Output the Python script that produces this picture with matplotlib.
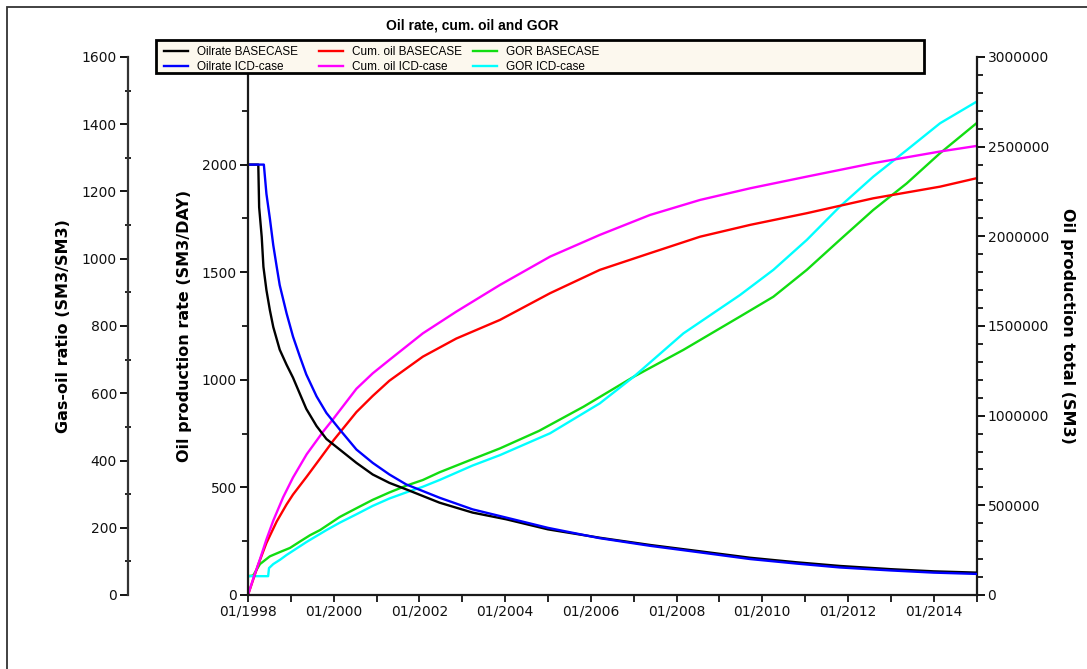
import matplotlib
matplotlib.use("Agg")
import matplotlib.pyplot as plt
from matplotlib.patches import Rectangle
from matplotlib.ticker import MultipleLocator, FixedLocator, FuncFormatter

# decimal years
rate_base_t = [1998.0, 1998.24, 1998.26, 1998.32, 1998.36, 1998.43, 1998.51, 1998.59, 1998.74, 1998.90,
               1999.05, 1999.21, 1999.36, 1999.60, 1999.83, 2000.14, 2000.53, 2000.91, 2001.30, 2001.69,
               2002.08, 2002.47, 2003.24, 2004.02, 2005.0, 2006.21, 2007.4, 2008.55, 2009.72, 2010.8,
               2011.81, 2013.0, 2014.0, 2015.0]
rate_base = [2000, 2000, 1802, 1664, 1525, 1417, 1324, 1245, 1140, 1070,
             1010, 935, 865, 785, 725, 676, 614, 560, 521, 491,
             460, 429, 383, 352, 305, 266, 232, 203, 173, 152,
             135, 120, 110, 104]

rate_icd_t = [1998.0, 1998.37, 1998.43, 1998.51, 1998.59, 1998.67, 1998.74, 1998.90, 1999.05, 1999.21,
              1999.36, 1999.60, 1999.83, 2000.14, 2000.53, 2000.91, 2001.30, 2001.69, 2002.08, 2002.47,
              2003.24, 2004.02, 2005.0, 2006.21, 2007.4, 2008.55, 2009.72, 2010.8, 2011.81, 2013.0,
              2014.0, 2015.0]
rate_icd = [2000, 2000, 1864, 1750, 1625, 1525, 1440, 1309, 1201, 1108,
            1025, 923, 846, 769, 676, 614, 560, 514, 483, 452,
            398, 360, 312, 264, 228, 198, 167, 146, 128, 114,
            104, 98]

cum_base_t = [1998.0, 1998.12, 1998.24, 1998.43, 1998.67, 1998.9, 1999.05, 1999.37, 1999.68, 2000.0,
              2000.53, 2000.91, 2001.30, 2002.08, 2002.86, 2003.88, 2005.05, 2006.21, 2007.38, 2008.55,
              2009.72, 2011.04, 2012.59, 2014.15, 2015.0]
cum_base = [0, 85e3, 170e3, 290e3, 410e3, 505e3, 560e3, 660e3, 760e3, 864e3,
            1020e3, 1110e3, 1195e3, 1329e3, 1430e3, 1534e3, 1683e3, 1813e3, 1906e3, 1998e3,
            2064e3, 2129e3, 2212e3, 2277e3, 2324e3]

cum_icd_t = [1998.0, 1998.12, 1998.28, 1998.43, 1998.59, 1998.82, 1999.05, 1999.37, 1999.75, 2000.0,
             2000.53, 2000.91, 2001.30, 2002.08, 2002.86, 2003.88, 2005.05, 2006.21, 2007.38, 2008.55,
             2009.72, 2011.04, 2012.59, 2014.15, 2015.0]
cum_icd = [0, 90e3, 200e3, 310e3, 415e3, 545e3, 655e3, 785e3, 910e3, 985e3,
           1150e3, 1236e3, 1311e3, 1459e3, 1580e3, 1729e3, 1887e3, 2008e3, 2119e3, 2203e3,
           2268e3, 2333e3, 2408e3, 2473e3, 2504e3]

gor_base_t = [1998.0, 1998.12, 1998.2, 1998.28, 1998.51, 1998.75, 1998.98, 1999.2, 1999.45, 1999.68,
              2000.14, 2000.53, 2000.91, 2001.30, 2001.69, 2002.08, 2002.47, 2003.24, 2003.88, 2004.79,
              2005.83, 2007.0, 2008.16, 2009.48, 2010.26, 2011.04, 2011.81, 2012.59, 2013.37, 2014.15,
              2015.0]
gor_base = [56, 58, 75, 92, 115, 128, 140, 158, 178, 193,
            232, 258, 283, 305, 325, 342, 365, 404, 436, 488,
            560, 649, 729, 828, 887, 967, 1056, 1145, 1224, 1314,
            1403]

gor_icd_t = [1998.0, 1998.47, 1998.49, 1998.59, 1998.75, 1998.9, 1999.37, 1999.83, 2000.14, 2000.53,
             2000.91, 2001.30, 2001.69, 2002.08, 2002.47, 2003.24, 2003.88, 2005.05, 2006.21, 2007.0,
             2008.16, 2009.48, 2010.26, 2011.04, 2011.81, 2012.59, 2013.37, 2014.15, 2015.0]
gor_icd = [56, 56, 80, 92, 105, 119, 158, 193, 215, 240,
           265, 287, 305, 322, 342, 385, 416, 481, 570, 649,
           778, 892, 967, 1056, 1155, 1244, 1323, 1403, 1467]

year_ticks = list(range(1998, 2015, 2))
title = "Oil rate, cum. oil and GOR"

W, H = 1087, 669
fig = plt.figure(figsize=(W / 100, H / 100), dpi=100)
x0, x1, ytop, ybot = 248, 976.5, 57, 595
ax = fig.add_axes([x0 / W, 1 - ybot / H, (x1 - x0) / W, (ybot - ytop) / H])
ax_gor = ax.twinx()
ax_cum = ax.twinx()

tick_font = {"family": "DejaVu Sans", "size": 10}
lab_font = dict(family="DejaVu Sans", fontsize=11.5, fontweight="bold")
spine_col = "#1a1a1a"
lw = 1.7

l_gor_b, = ax_gor.plot(gor_base_t, gor_base, color="#11dd11", lw=lw, label="GOR BASECASE")
l_gor_i, = ax_gor.plot(gor_icd_t, gor_icd, color="#00ffff", lw=lw, label="GOR ICD-case")
l_cum_b, = ax_cum.plot(cum_base_t, cum_base, color="#ff0000", lw=lw, label="Cum. oil BASECASE")
l_cum_i, = ax_cum.plot(cum_icd_t, cum_icd, color="#ff00ff", lw=lw, label="Cum. oil ICD-case")
l_rate_b, = ax.plot(rate_base_t, rate_base, color="#000000", lw=lw, label="Oilrate BASECASE")
l_rate_i, = ax.plot(rate_icd_t, rate_icd, color="#0000ff", lw=lw, label="Oilrate ICD-case")
ax.set_zorder(3)
ax.patch.set_visible(False)

ax.set_xlim(1998, 2015)
ax.set_ylim(0, 2500)
ax_gor.set_ylim(0, 1600)
ax_cum.set_ylim(0, 3000000)

# oil rate axis
for s in ["top", "right"]:
    ax.spines[s].set_visible(False)
for s in ["left", "bottom"]:
    ax.spines[s].set_linewidth(1.6)
    ax.spines[s].set_color(spine_col)
ax.yaxis.set_major_locator(FixedLocator([0, 500, 1000, 1500, 2000]))
ax.yaxis.set_minor_locator(MultipleLocator(250))
ax.xaxis.set_major_locator(FixedLocator(year_ticks))
ax.xaxis.set_minor_locator(MultipleLocator(1))
ax.xaxis.set_major_formatter(FuncFormatter(lambda v, p: "01/%d" % round(v)))
ax.tick_params(axis="y", which="major", length=6, width=1.3, pad=2, direction="out")
ax.tick_params(axis="y", which="minor", length=4, width=1.2, direction="out")
ax.tick_params(axis="x", which="both", length=5, width=1.2, pad=2, direction="out")
ax.set_ylabel("Oil production rate (SM3/DAY)", **lab_font)
ax.yaxis.label.set_va("center")
ax.yaxis.set_label_coords((184 - x0) / (x1 - x0), 0.5)

# GOR axis on the far left
for s in ["top", "right", "bottom"]:
    ax_gor.spines[s].set_visible(False)
ax_gor.spines["left"].set_visible(True)
ax_gor.spines["left"].set_position(("axes", (128 - x0) / (x1 - x0)))
ax_gor.spines["left"].set_linewidth(1.6)
ax_gor.spines["left"].set_color("#333333")
ax_gor.yaxis.set_ticks_position("left")
ax_gor.yaxis.set_label_position("left")
ax_gor.yaxis.set_major_locator(MultipleLocator(200))
ax_gor.yaxis.set_minor_locator(MultipleLocator(100))
ax_gor.tick_params(axis="y", which="major", length=6, width=1.3, pad=2, direction="out")
ax_gor.tick_params(axis="y", which="minor", length=4, width=1.2, direction="inout")
ax_gor.set_ylabel("Gas-oil ratio (SM3/SM3)", **lab_font)
ax_gor.yaxis.label.set_va("center")
ax_gor.yaxis.set_label_coords((63 - x0) / (x1 - x0), 0.5)

# cumulative axis on the right
for s in ["top", "left", "bottom"]:
    ax_cum.spines[s].set_visible(False)
ax_cum.spines["right"].set_linewidth(1.6)
ax_cum.spines["right"].set_color(spine_col)
ax_cum.yaxis.set_major_locator(MultipleLocator(500000))
ax_cum.yaxis.set_minor_locator(MultipleLocator(100000))
ax_cum.yaxis.set_major_formatter(FuncFormatter(lambda v, p: "%d" % v))
ax_cum.tick_params(axis="y", which="major", length=6, width=1.3, pad=2, direction="out")
ax_cum.tick_params(axis="y", which="minor", length=4, width=1.2, direction="out")
ax_cum.set_ylabel("Oil production total (SM3)", rotation=270, **lab_font)
ax_cum.yaxis.label.set_va("center")
ax_cum.yaxis.set_label_coords((1067 - x0) / (x1 - x0), 0.5)

for a in (ax, ax_gor, ax_cum):
    for t in a.get_xticklabels() + a.get_yticklabels():
        t.set_fontfamily(tick_font["family"])
        t.set_fontsize(tick_font["size"])
        t.set_color("#111111")

# outer frame (top and left edges only visible)
fig.add_artist(Rectangle((7 / W, -0.1), 1.2, 1.1 - 7 / H, transform=fig.transFigure,
                         fill=False, ec="#333333", lw=1.3, clip_on=False))

fig.text(472 / W, 1 - 25 / H, title, ha="center", va="center",
         family="Liberation Sans", fontweight="bold", fontsize=10)

# legend box
fig.add_artist(Rectangle((156 / W, 1 - 73 / H), 768 / W, 33 / H, transform=fig.transFigure,
                         fc="#fcf8ee", ec="black", lw=2, zorder=4))
columns = [(164, [l_rate_b, l_rate_i]), (319, [l_cum_b, l_cum_i]), (473, [l_gor_b, l_gor_i])]
for xpos, handles in columns:
    fig.legend(handles=handles, loc="upper left", bbox_to_anchor=(xpos / W, 1 - 46 / H),
               frameon=False, borderpad=0, borderaxespad=0, handlelength=2.0,
               handletextpad=0.8, labelspacing=0.25,
               prop={"family": "Liberation Sans", "size": 8.5})

fig.savefig("out.png", dpi=100)
